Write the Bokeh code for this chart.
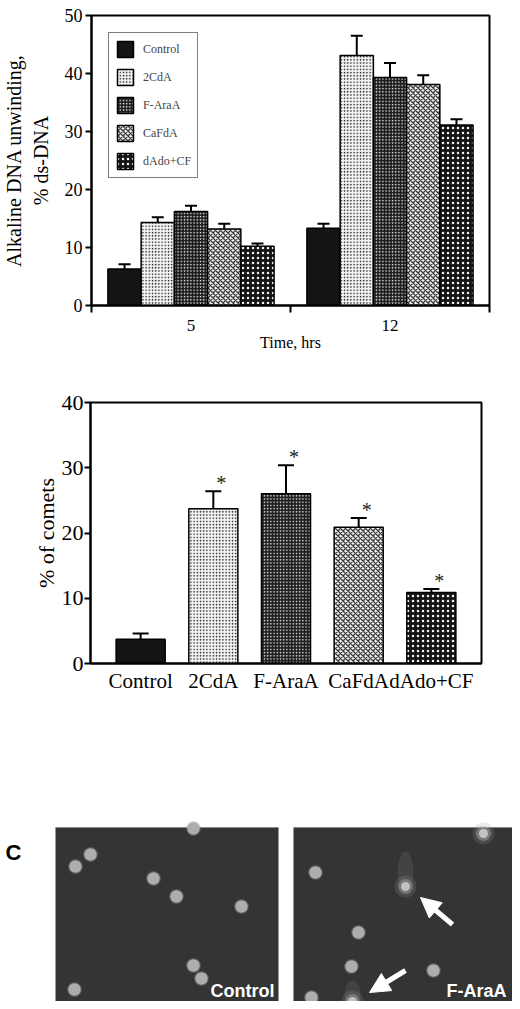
from bokeh.plotting import figure
from bokeh.models import (Range1d, FixedTicker, Whisker, TeeHead, Label, Legend, LegendItem,
                          ColumnDataSource, Arrow, NormalHead)
from bokeh.layouts import column, row
from bokeh.embed import file_html
from bokeh.resources import INLINE
from bokeh.core.properties import value

# ---------------- data ----------------
treatments = ["Control", "2CdA", "F-AraA", "CaFdA", "dAdo+CF"]
time_points = ["5", "12"]
unwinding_5h = [6.3, 14.3, 16.2, 13.2, 10.2]
unwinding_5h_err = [0.8, 0.9, 1.0, 0.9, 0.5]
unwinding_12h = [13.3, 43.1, 39.3, 38.1, 31.1]
unwinding_12h_err = [0.8, 3.4, 2.5, 1.6, 1.0]
comets_pct = [3.7, 23.7, 26.0, 20.9, 10.9]
comets_err = [0.9, 2.7, 4.4, 1.4, 0.5]
comets_signif = ["", "*", "*", "*", "*"]
a_yticks = [0, 10, 20, 30, 40, 50]
b_yticks = [0, 10, 20, 30, 40]

# micrograph content (pixels inside each image, origin = image top-left)
control_cells_x = [138, 35, 20, 98, 121, 186, 138, 146, 19]
control_cells_y = [1, 27, 39, 51, 69, 79, 138, 151, 162]
faraa_cells_x = [22, 65, 58, 140, 18]
faraa_cells_y = [45, 105, 139, 143, 170]
faraa_comets_x = [112, 59, 190]
faraa_comets_y = [59, 174, 6]
faraa_tail_len = [28, 14, 0]
arrow_tail_x = [159, 112]
arrow_tail_y = [97, 143]
arrow_tip_x = [127, 76]
arrow_tip_y = [70, 165]

SERIF = "Liberation Serif"
SANS = "Liberation Sans"

bar_styles = {
    "Control": dict(fill_color="#141414"),
    "2CdA": dict(fill_color="#f6f6f6", hatch_pattern="dot", hatch_color="#1a1a1a",
                 hatch_scale=3.2, hatch_weight=0.5),
    "F-AraA": dict(fill_color="#1c1c1c", hatch_pattern="dot", hatch_color="#e8e8e8",
                   hatch_scale=3.2, hatch_weight=0.4),
    "CaFdA": dict(fill_color="#f2f2f2", hatch_pattern="diagonal_cross", hatch_color="#3a3a3a",
                  hatch_scale=5, hatch_weight=1.3),
    "dAdo+CF": dict(fill_color="#141414", hatch_pattern="dot", hatch_color="#f2f2f2",
                    hatch_scale=5, hatch_weight=0.6),
}


def style_axes(p):
    p.grid.visible = False
    p.outline_line_color = "black"
    p.outline_line_width = 2
    p.background_fill_color = "white"
    p.border_fill_color = "white"
    for ax in p.axis:
        ax.axis_line_width = 2
        ax.axis_line_color = "black"
        ax.major_tick_line_width = 2
        ax.major_tick_line_color = "black"
        ax.major_tick_in = 0
        ax.minor_tick_in = 0
        ax.major_label_text_font = SERIF
        ax.major_label_text_color = "black"
        ax.axis_label_text_font = SERIF
        ax.axis_label_text_font_style = "normal"
        ax.axis_label_text_color = "black"


# ---------------- panel A ----------------
A_FW, A_FH = 398, 290
A_LEFT, A_TOP = 86, 15
pa = figure(frame_width=A_FW, frame_height=A_FH, x_range=Range1d(0, 2), y_range=Range1d(0, 50),
            min_border_left=A_LEFT, min_border_right=28, min_border_top=A_TOP, min_border_bottom=83,
            output_backend="svg", toolbar_location=None)

bar_w = 0.167
items = []
for i, t in enumerate(treatments):
    xs = [g + 0.5 + (i - 2) * bar_w for g in range(len(time_points))]
    tops = [unwinding_5h[i], unwinding_12h[i]]
    errs = [unwinding_5h_err[i], unwinding_12h_err[i]]
    src = ColumnDataSource(dict(x=xs, top=tops, upper=[a + b for a, b in zip(tops, errs)]))
    r = pa.vbar(x="x", top="top", bottom=0, width=bar_w, source=src,
                line_color="black", line_width=1.5, **bar_styles[t])
    pa.add_layout(Whisker(base="x", upper="upper", lower="top", source=src, dimension="height",
                          line_width=2, line_color="black",
                          upper_head=TeeHead(size=12, line_width=2, line_color="black"),
                          lower_head=None))
    items.append(LegendItem(label=t, renderers=[r]))

style_axes(pa)
pa.xaxis.ticker = FixedTicker(ticks=[g + 0.5 for g in range(len(time_points))],
                              minor_ticks=list(range(len(time_points) + 1)))
pa.xaxis.major_label_overrides = {g + 0.5: tp for g, tp in enumerate(time_points)}
pa.xaxis.major_tick_out = 0
pa.xaxis.minor_tick_out = 7
pa.xaxis.minor_tick_line_width = 2
pa.xaxis.minor_tick_line_color = "black"
pa.xaxis.major_label_text_font_size = "17px"
pa.xaxis.major_label_standoff = 7
pa.xaxis.axis_label = "Time, hrs"
pa.xaxis.axis_label_text_font_size = "16px"
pa.xaxis.axis_label_standoff = 0
pa.yaxis.ticker = FixedTicker(ticks=a_yticks, minor_ticks=[])
pa.yaxis.major_tick_out = 6
pa.yaxis.major_label_text_font_size = "18px"
pa.yaxis.major_label_standoff = 3
pa.yaxis.axis_label = "Alkaline DNA unwinding,\n% ds-DNA"
pa.yaxis.axis_label_text_font_size = "20px"
pa.yaxis.axis_label_standoff = 10

legend = Legend(items=items, location="top_left", margin=17, padding=6, spacing=8,
                glyph_width=20, glyph_height=20, label_standoff=8, label_height=20,
                label_text_font=SERIF, label_text_font_size="12px",
                border_line_color="black", border_line_width=1.2,
                background_fill_color="white", background_fill_alpha=1)
pa.add_layout(legend)

a_px_x = A_FW / 2.0
a_px_y = A_FH / 50.0
pa.add_layout(Label(x=(4 - A_LEFT) / a_px_x, y=50 + (A_TOP + 1) / a_px_y, text="A",
                    text_font=SANS, text_font_style="bold", text_font_size="22px",
                    text_baseline="top", text_align="left", text_color="black"))

# ---------------- panel B ----------------
B_FW, B_FH = 391, 261
B_LEFT, B_TOP = 90, 14
B_X0, B_X1 = -0.69, len(treatments) - 1 + 0.69
pb = figure(frame_width=B_FW, frame_height=B_FH, x_range=Range1d(B_X0, B_X1), y_range=Range1d(0, 40),
            min_border_left=B_LEFT, min_border_right=31, min_border_top=B_TOP, min_border_bottom=37,
            output_backend="svg", toolbar_location=None)
b_idx = list(range(len(treatments)))
for i, t in enumerate(treatments):
    src = ColumnDataSource(dict(x=[i], top=[comets_pct[i]], upper=[comets_pct[i] + comets_err[i]],
                                star=[comets_signif[i]]))
    pb.vbar(x="x", top="top", bottom=0, width=0.675, source=src,
            line_color="black", line_width=1.5, **bar_styles[t])
    pb.add_layout(Whisker(base="x", upper="upper", lower="top", source=src, dimension="height",
                          line_width=2, line_color="black",
                          upper_head=TeeHead(size=16, line_width=2, line_color="black"),
                          lower_head=None))
    pb.text(x="x", y="upper", text="star", source=src, x_offset=8, y_offset=-8,
            text_align="center", text_baseline="alphabetic", text_font=value(SERIF),
            text_font_size="20px", text_color="#222222")

style_axes(pb)
pb.xaxis.ticker = FixedTicker(ticks=b_idx, minor_ticks=[])
pb.xaxis.major_label_overrides = {i: t for i, t in enumerate(treatments)}
pb.xaxis.major_tick_out = 0
pb.xaxis.major_label_text_font_size = "21px"
pb.xaxis.major_label_standoff = 5
pb.yaxis.ticker = FixedTicker(ticks=b_yticks, minor_ticks=[])
pb.yaxis.major_tick_out = 6
pb.yaxis.major_label_text_font_size = "22px"
pb.yaxis.major_label_standoff = 1
pb.yaxis.axis_label = "% of comets"
pb.yaxis.axis_label_text_font_size = "22px"
pb.yaxis.axis_label_standoff = 0

b_px_x = B_FW / (B_X1 - B_X0)
b_px_y = B_FH / 40.0
pb.add_layout(Label(x=B_X0 + (3 - B_LEFT) / b_px_x, y=40 + (B_TOP - 11) / b_px_y, text="B",
                    text_font=SANS, text_font_style="bold", text_font_size="22px",
                    text_baseline="top", text_align="left", text_color="black"))

# ---------------- panel C (micrographs) ----------------
C_W, C_H = 512, 301
C_TOP = 700
pc = figure(frame_width=C_W, frame_height=C_H, x_range=Range1d(0, C_W),
            y_range=Range1d(C_TOP + C_H, C_TOP),
            min_border_left=0, min_border_right=0, min_border_top=0, min_border_bottom=0,
            x_axis_location=None, y_axis_location=None,
            output_backend="svg", toolbar_location=None)
pc.grid.visible = False
pc.outline_line_color = None
img_left = [55, 293]
img_w = [223, 227]
img_top = 827
img_h = 182
pc.quad(left=img_left, right=[l + w for l, w in zip(img_left, img_w)],
        top=[img_top] * 2, bottom=[img_top + img_h] * 2, fill_color="#343434", line_color=None)
pc.segment(x0=img_left, y0=[img_top] * 2, x1=[l + w for l, w in zip(img_left, img_w)],
           y1=[img_top] * 2, line_color="#8a8a8a", line_width=1)

cx = [img_left[0] + v for v in control_cells_x]
cy = [img_top + v for v in control_cells_y]
fx = [img_left[1] + v for v in faraa_cells_x]
fy = [img_top + v for v in faraa_cells_y]
for xs, ys in ((cx, cy), (fx, fy)):
    pc.scatter(xs, ys, size=15, fill_color="#9a9a9a", fill_alpha=0.35, line_color=None)
    pc.scatter(xs, ys, size=12.5, fill_color="#adadad", line_color=None)

kx = [img_left[1] + v for v in faraa_comets_x]
ky = [img_top + v for v in faraa_comets_y]
tail_y = [y - tl / 2.0 for y, tl in zip(ky, faraa_tail_len)]
tail_h = [tl + 14 for tl in faraa_tail_len]
pc.ellipse(kx, tail_y, width=[16] * len(kx), height=tail_h, fill_color="#9a9a9a",
           fill_alpha=0.15, line_color=None)
pc.scatter(kx, ky, size=22, fill_color="#9a9a9a", fill_alpha=0.2, line_color=None)
pc.scatter(kx, ky, size=15, fill_color="#b0b0b0", fill_alpha=0.4, line_color=None)
pc.scatter(kx, ky, size=9, fill_color="#d4d4d4", fill_alpha=0.8, line_color=None)

for x0, y0, x1, y1 in zip(arrow_tail_x, arrow_tail_y, arrow_tip_x, arrow_tip_y):
    pc.add_layout(Arrow(x_start=img_left[1] + x0, y_start=img_top + y0,
                        x_end=img_left[1] + x1, y_end=img_top + y1,
                        line_color="white", line_width=5,
                        end=NormalHead(size=20, fill_color="white", line_color="white", line_width=1)))

pc.add_layout(Label(x=img_left[0] + img_w[0] - 4, y=990, text="Control", text_align="right",
                    text_baseline="alphabetic", text_font=SANS, text_font_style="bold",
                    text_font_size="18px", text_color="white"))
pc.add_layout(Label(x=C_W - 6, y=990, text="F-AraA", text_align="right",
                    text_baseline="alphabetic", text_font=SANS, text_font_style="bold",
                    text_font_size="18px", text_color="white"))
pc.add_layout(Label(x=5, y=852, text="C", text_align="left", text_baseline="middle",
                    text_font=SANS, text_font_style="bold", text_font_size="22px",
                    text_color="black"))

layout = column(row(pa), row(pb), row(pc), spacing=0)
open("out.html", "w").write(file_html(layout, INLINE))
